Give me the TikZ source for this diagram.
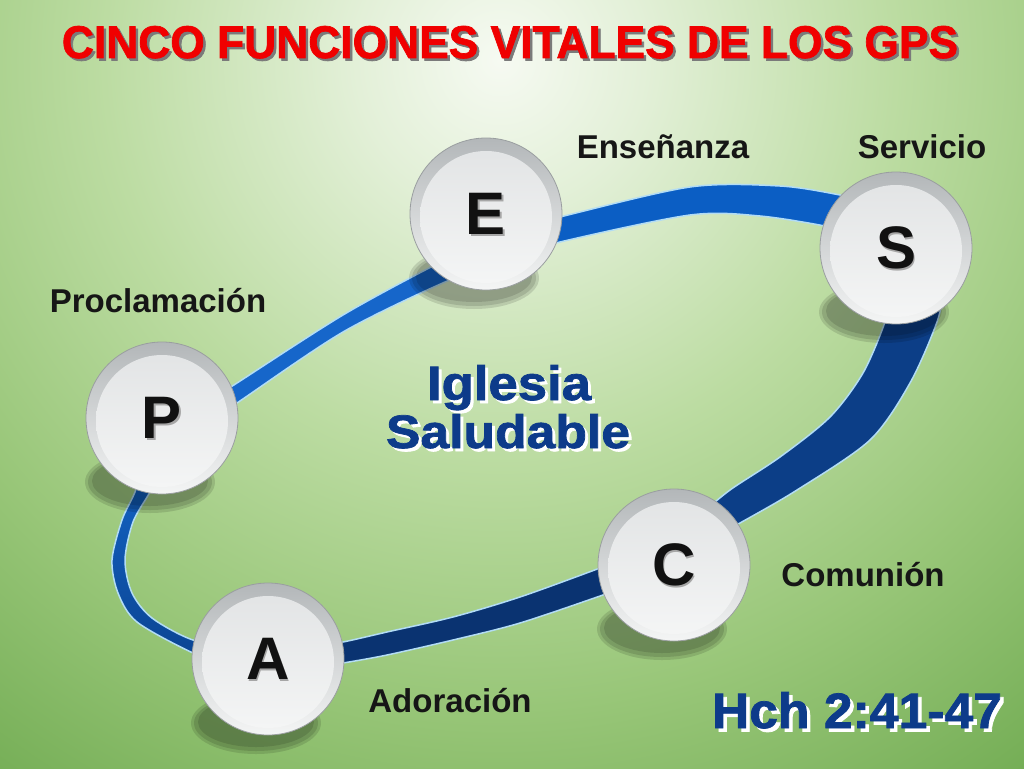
\documentclass[tikz,border=0pt]{standalone}
\usepackage{fontspec}
\setmainfont{Liberation Sans}
\newfontfamily\heavy{Liberation Sans}[BoldFeatures={FakeBold=1.5}]
\usepackage{graphicx}
\usetikzlibrary{calc}
\definecolor{bg0}{HTML}{F6FAF2}
\definecolor{bg1}{HTML}{E3F0D8}
\definecolor{bg2}{HTML}{BCDCA2}
\definecolor{bg3}{HTML}{98C678}
\definecolor{bg4}{HTML}{72AC53}
\definecolor{titlered}{HTML}{F00000}
\definecolor{titleshadow}{HTML}{7A7A7A}
\definecolor{navytext}{HTML}{0D3B8A}
\definecolor{edgec}{HTML}{B2DCF5}
\definecolor{bandA}{HTML}{1666CA}
\definecolor{bandB}{HTML}{0B5EC4}
\definecolor{bandC}{HTML}{0C3E87}
\definecolor{bandD}{HTML}{0A3371}
\definecolor{bandE}{HTML}{1464C6}
\definecolor{bandF}{HTML}{0A4390}
\definecolor{rimT}{HTML}{B3B7B9}
\definecolor{rimB}{HTML}{F4F5F5}
\definecolor{rimL}{HTML}{9A9EA0}
\definecolor{diskT}{HTML}{E1E3E4}
\definecolor{diskB}{HTML}{F5F6F6}
\definecolor{letter}{HTML}{111111}
\definecolor{lbltext}{HTML}{161616}
\pgfdeclareradialshading{bgshade}{\pgfpoint{0bp}{0bp}}{color(0bp)=(bg0); color(4bp)=(bg1); color(11bp)=(bg2); color(18bp)=(bg3); color(25bp)=(bg4); color(50bp)=(bg4)}
\newcommand\shadowed[4]{\leavevmode\rlap{\hspace*{#1}\raisebox{-#1}[0pt][0pt]{\color{#2}#4}}{\color{#3}#4}}
\tikzset{
  bead/.style={circle, minimum size=152pt, inner sep=0pt, top color=rimT, bottom color=rimB,
    draw=rimL, line width=0.8pt, font=\fontsize{60}{60}\selectfont\bfseries, text=letter,
    path picture={\shade[top color=diskT, bottom color=diskB] ([yshift=-3pt]path picture bounding box.center) circle (66pt);}},
  beadshadow/.style={fill=black, opacity=0.12},
  band/.style={draw=edgec, line width=1.5pt, line join=round},
  lbl/.style={anchor=base, font=\fontsize{33}{33}\selectfont\bfseries, text=lbltext, inner sep=0pt}
}
\begin{document}
\begin{tikzpicture}[x=1pt,y=-1pt]
\useasboundingbox (0,0) rectangle (1024,768);
\begin{scope}
  \clip (0,0) rectangle (1024,768);
  \shade[shading=bgshade] (500,60) circle (900);
\end{scope}

% title
\node[anchor=base, inner sep=0pt] (title) at (510,58)
  {\shadowed{2.5pt}{titleshadow}{titlered}{\resizebox{896pt}{32pt}{\heavy\bfseries CINCO FUNCIONES VITALES DE LOS GPS}}};

% ring band segments
\filldraw[band, fill=bandA] plot[smooth] coordinates {(195,410) (237,383) (343,315) (435,265) (470,250)}
  -- plot[smooth] coordinates {(480,272) (445,282) (343,332) (237,403) (200,428)} -- cycle;
\filldraw[band, fill=bandB] plot[smooth] coordinates {(500,233) (560,217) (690,187) (780,186) (840,195) (870,203)}
  -- plot[smooth] coordinates {(870,238) (830,227) (760,216) (690,215) (560,242) (500,260)} -- cycle;
\filldraw[band, fill=bandC] plot[smooth] coordinates {(945,285) (937,322) (910,383) (870,440) (797,490) (740,523) (705,542)}
  -- plot[smooth] coordinates {(700,515) (730,490) (780,457) (830,417) (863,373) (885,322) (892,290)} -- cycle;
\filldraw[band, fill=bandD] plot[smooth] coordinates {(630,556) (600,568) (520,597) (453,617) (387,632) (343,642) (310,647)}
  -- plot[smooth] coordinates {(310,668) (343,663) (387,655) (453,640) (520,623) (603,595) (630,585)} -- cycle;
\shadedraw[band, top color=bandE, bottom color=bandF] plot[smooth] coordinates {(145,460) (135,492) (122,520) (112,560) (118,593) (137,622) (193,653) (240,670)}
  -- plot[smooth] coordinates {(240,647) (193,640) (152,618) (132,593) (125,560) (133,522) (150,492) (165,462)} -- cycle;

% circle centres
\coordinate (cE) at (486,214);
\coordinate (cS) at (896,248);
\coordinate (cP) at (162,418);
\coordinate (cC) at (674,565);
\coordinate (cA) at (268,659);

% soft shadows
\foreach \c in {cE,cS,cP,cC,cA}{
  \fill[beadshadow] ($(\c)+(-12,64)$) ellipse (65 and 31);
  \fill[beadshadow] ($(\c)+(-12,64)$) ellipse (62 and 28);
  \fill[beadshadow] ($(\c)+(-12,63)$) ellipse (58 and 25);
}

% beads
\node[bead] (E) at (cE) {\shadowed{1.5pt}{black!35}{letter}{E}};
\node[bead] (S) at (cS) {\shadowed{1.5pt}{black!35}{letter}{S}};
\node[bead] (P) at (cP) {\shadowed{1.5pt}{black!35}{letter}{P}};
\node[bead] (C) at (cC) {\shadowed{1.5pt}{black!35}{letter}{C}};
\node[bead] (A) at (cA) {\shadowed{1.5pt}{black!35}{letter}{A}};

% labels
\node[lbl] (lE) at (663,158) {Enseñanza};
\node[lbl] (lS) at (922,158) {Servicio};
\node[lbl] (lP) at (158,312) {Proclamación};
\node[lbl] (lC) at (863,586) {Comunión};
\node[lbl] (lA) at (450,712) {Adoración};

% centre text
\node[anchor=base, inner sep=0pt] (ig1) at (509,400)
  {\shadowed{3pt}{white}{navytext}{\resizebox{164pt}{35pt}{\heavy\bfseries Iglesia}}};
\node[anchor=base, inner sep=0pt] (ig2) at (508,448)
  {\shadowed{3pt}{white}{navytext}{\resizebox{244pt}{34pt}{\heavy\bfseries Saludable}}};

% reference
\node[anchor=base, inner sep=0pt] (hch) at (857,728)
  {\shadowed{3.5pt}{white}{navytext}{\resizebox{290pt}{36pt}{\heavy\bfseries Hch 2:41-47}}};
\end{tikzpicture}
\end{document}
